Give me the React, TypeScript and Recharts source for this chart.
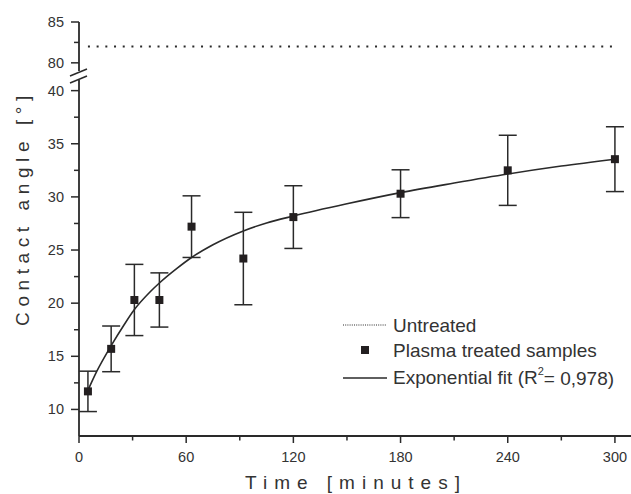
import { ComposedChart, Line, Scatter, ErrorBar, XAxis, YAxis, Legend } from 'recharts'

const INK = '#2a2a2a'
const TEXT = '#333'
const FONT = '"Liberation Sans", Arial, sans-serif'

// measured samples (minutes, contact angle, std dev)
const sampleTimes = [5, 18, 31, 45, 63, 92, 120, 180, 240, 300]
const sampleAngles = [11.7, 15.7, 20.3, 20.3, 27.2, 24.2, 28.1, 30.3, 32.5, 33.55]
const sampleErrors = [1.9, 2.15, 3.35, 2.55, 2.9, 4.35, 2.95, 2.25, 3.3, 3.05]

// exponential fit curve
const fitTimes = [5, 10, 18, 25, 31, 40, 45, 55, 63, 75, 92, 105, 120, 150, 180, 210, 240, 270, 300]
const fitAngles = [11.8, 13.6, 16.0, 17.9, 19.4, 21.1, 21.9, 23.3, 24.3, 25.5, 26.8, 27.55, 28.2, 29.35, 30.4, 31.3, 32.15, 32.9, 33.55]

// untreated reference
const untreatedTimes = [5, 300]
const untreatedAngles = [82, 82]

const xTicks = [0, 30, 60, 90, 120, 150, 180, 210, 240, 270, 300]
const yTicksLow = [10, 12.5, 15, 17.5, 20, 22.5, 25, 27.5, 30, 32.5, 35, 37.5, 40]
const yTicksHigh = [80, 82.5, 85]

const samples = sampleTimes.map((t, i) => ({ t, y: sampleAngles[i], err: sampleErrors[i] }))
const fit = fitTimes.map((t, i) => ({ t, y: fitAngles[i] }))
const untreated = untreatedTimes.map((t, i) => ({ t, y: untreatedAngles[i] }))

function YTick({ x, y, payload }: any) {
  const major = payload.value % 5 === 0
  return (
    <g>
      <line x1={x - (major ? 8 : 5)} x2={x} y1={y} y2={y} stroke={INK} strokeWidth={1.5} />
      {major && (
        <text x={x - 15} y={y} textAnchor="end" dominantBaseline="central" fontSize={14.5} fill={TEXT} fontFamily={FONT}>
          {payload.value}
        </text>
      )}
    </g>
  )
}

function XTick({ x, y, payload }: any) {
  const major = payload.value % 60 === 0
  return (
    <g>
      <line x1={x} x2={x} y1={y} y2={y + (major ? 7 : 4.5)} stroke={INK} strokeWidth={1.5} />
      {major && (
        <text x={x} y={y + 21} textAnchor="middle" dominantBaseline="central" fontSize={14.5} fill={TEXT} fontFamily={FONT}>
          {payload.value}
        </text>
      )}
    </g>
  )
}

const renderLegend = () => (
  <svg width={290} height={80} style={{ display: 'block' }}>
    <line x1={3} x2={47} y1={13} y2={13} stroke={INK} strokeWidth={1} strokeDasharray="1 1.2" />
    <text x={53} y={13} dominantBaseline="central" fontSize={19} fill={TEXT} fontFamily={FONT}>Untreated</text>
    <rect x={21} y={34} width={8} height={8} fill="#231f20" />
    <text x={53} y={38} dominantBaseline="central" fontSize={19} fill={TEXT} fontFamily={FONT}>Plasma treated samples</text>
    <line x1={3} x2={47} y1={66} y2={66} stroke={INK} strokeWidth={1.3} />
    <text x={53} y={65.5} dominantBaseline="central" fontSize={19} fill={TEXT} fontFamily={FONT}>
      Exponential fit (R<tspan dy={-7} fontSize={11}>2</tspan><tspan dy={7}>= 0,978)</tspan>
    </text>
  </svg>
)

export default function App() {
  return (
    <div style={{ position: 'absolute', left: 0, top: 0, width: 631, height: 494, overflow: 'hidden', background: '#fff', fontFamily: FONT }}>
      {/* lower part of the broken axis */}
      <div style={{ position: 'absolute', left: 0, top: 0 }}>
        <ComposedChart width={631} height={494} margin={{ top: 80, right: 0, bottom: 0, left: 0 }}>
          <XAxis type="number" dataKey="t" domain={[0, 309]} ticks={xTicks} interval={0} allowDataOverflow height={58}
            tickSize={0} tickMargin={0} tickLine={false} axisLine={{ stroke: INK, strokeWidth: 1.8 }} tick={<XTick />} />
          <YAxis type="number" domain={[7.5, 41]} ticks={yTicksLow} interval={0} allowDataOverflow width={79}
            tickSize={0} tickMargin={0} tickLine={false} axisLine={{ stroke: INK, strokeWidth: 1.8 }} tick={<YTick />} />
          <Line data={fit} dataKey="y" type="monotone" stroke={INK} strokeWidth={1.6} dot={false} isAnimationActive={false} />
          <Scatter data={samples} dataKey="y" shape="square" fill="#231f20" isAnimationActive={false}>
            <ErrorBar dataKey="err" direction="y" width={9} strokeWidth={1.5} stroke={INK} />
          </Scatter>
          <Legend layout="horizontal" verticalAlign="middle" align="center" content={renderLegend}
            wrapperStyle={{ position: 'absolute', left: 340, top: 312, width: 290, height: 80 }} />
        </ComposedChart>
      </div>

      {/* upper part: untreated level */}
      <div style={{ position: 'absolute', left: 0, top: 0 }}>
        <ComposedChart width={631} height={71} margin={{ top: 22, right: 0, bottom: 0, left: 0 }}>
          <XAxis type="number" dataKey="t" domain={[0, 309]} hide />
          <YAxis type="number" domain={[79, 85]} ticks={yTicksHigh} interval={0} allowDataOverflow width={79}
            tickSize={0} tickMargin={0} tickLine={false} axisLine={{ stroke: INK, strokeWidth: 1.8 }} tick={<YTick />} />
          <Line data={untreated} dataKey="y" stroke={INK} strokeWidth={2} strokeDasharray="2 6.7" dot={false} isAnimationActive={false} />
        </ComposedChart>
      </div>

      {/* axis break marks and titles */}
      <svg width={631} height={494} style={{ position: 'absolute', left: 0, top: 0, pointerEvents: 'none' }}>
        <line x1={70} y1={76} x2={87} y2={69} stroke={INK} strokeWidth={1.5} />
        <line x1={70} y1={83} x2={87} y2={76} stroke={INK} strokeWidth={1.5} />
        <text x={356} y={489} textAnchor="middle" fontSize={19} letterSpacing={7} fill={TEXT} fontFamily={FONT}>
          Time [minutes]
        </text>
        <text x={22} y={208} textAnchor="middle" dominantBaseline="central" fontSize={19} letterSpacing={5.6}
          fill={TEXT} fontFamily={FONT} transform="rotate(-90 22 208)">
          Contact angle [°]
        </text>
      </svg>
    </div>
  )
}
